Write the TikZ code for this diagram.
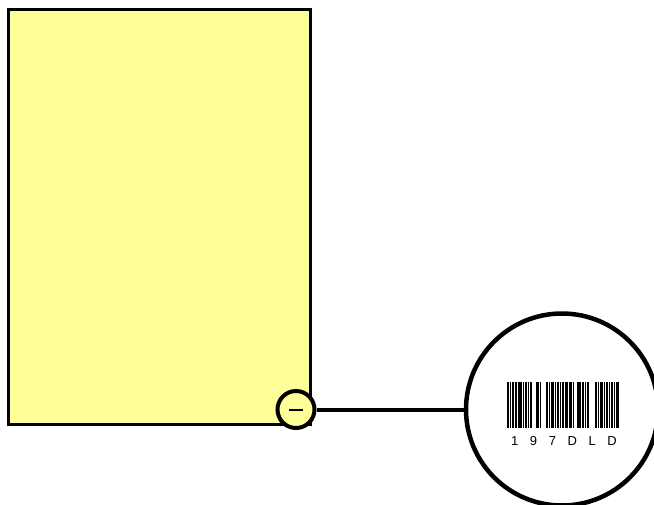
\documentclass[tikz,border=0pt]{standalone}
\usepackage{fontspec}
\setmainfont{Liberation Sans}
\definecolor{paper}{HTML}{FFFF99}
\begin{document}
\begin{tikzpicture}[x=1pt,y=-1pt,
  sheet/.style={draw=black,line width=3pt,fill=paper,inner sep=0pt,outer sep=0pt,anchor=north west},
  minusbtn/.style={circle,draw=black,line width=4pt,fill=paper,inner sep=0pt,minimum size=37pt},
  lens/.style={circle,draw=black,line width=4.5pt,fill=white,inner sep=0pt,minimum size=192pt},
  conn/.style={line width=4pt},
  bar/.style={fill=black}]
\useasboundingbox (0,0) rectangle (654,504);
\clip (0,0) rectangle (654,504);
\node[sheet,minimum width=302pt,minimum height=415pt] (sheet) at (8,9) {};
\node[lens] (lens) at (562,409.5) {};
\node[minusbtn] (minus) at (296,409.5) {};
\draw[conn] (minus.east) -- (lens.west);
\draw[line width=2pt] ([xshift=-7pt]minus.center) -- ([xshift=7pt]minus.center);
\foreach \s/\w in {507/2,510/1,512/2,515/1.5,517.5/1,519/2.5,523/1,525/2,528/1,530/2,
  536/2.5,539.5/1,546/2,549/1,551/2.5,555/1,557/2,560/1,562/1.5,565/2.5,
  568.5/1,570/2,573/1,577/2.5,580/1,582/2,585/1,587/1.5,
  595/2,598/1,600/2.5,603.5/1,606/1.5,609/1,611/2,614/1,616/2.5}
  \fill[bar] (\s,382) rectangle ++(\w,46);
\node[font=\fontsize{13}{13}\selectfont,inner sep=0pt] (code) at (564,441) {\spaceskip=11.6pt 1 9 7 D L D};
\end{tikzpicture}
\end{document}
